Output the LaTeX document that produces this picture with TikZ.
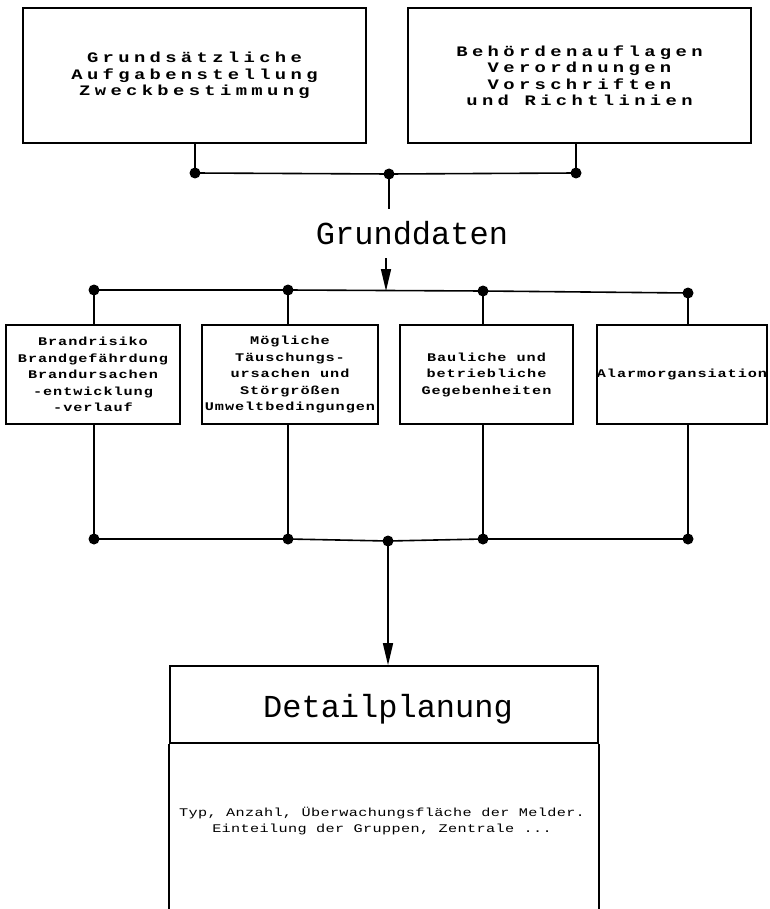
\documentclass[tikz,border=0pt]{standalone}
\usepackage{fontspec}
\setmainfont{Liberation Mono}
% wide, tracked typewriter faces for the box texts
\newfontfamily\headfont[FakeStretch=1.3,LetterSpace=30]{Liberation Mono}
\newfontfamily\cellfont[FakeStretch=1.3,LetterSpace=8]{Liberation Mono}
\newfontfamily\notefont[FakeStretch=1.3,LetterSpace=3]{Liberation Mono}
\newfontfamily\bigfont{Liberation Mono}
\usetikzlibrary{arrows.meta}

\begin{document}
\begin{tikzpicture}[x=1pt,y=-1pt,line width=1.6pt,
  box/.style={draw, rectangle, inner sep=0pt, align=center},
  topbox/.style={box, minimum width=343pt, minimum height=135pt,
    font=\headfont\bfseries\fontsize{14.5}{16.5}\selectfont},
  midbox/.style={box, minimum height=99pt,
    font=\cellfont\bfseries\fontsize{11.7}{16.5}\selectfont},
  bigtext/.style={inner sep=0pt, anchor=base, font=\bigfont\fontsize{32}{36}\selectfont},
  notetext/.style={inner sep=0pt, align=center, font=\notefont\fontsize{11.7}{16}\selectfont},
  flow/.style={-{Triangle[length=22pt,width=10pt]}},
  dot/.style={fill=black}
]
\useasboundingbox (0,0) rectangle (769,909);

% top row
\node[topbox] (tl) at (194.5,75.5) {Grundsätzliche\\Aufgabenstellung\\Zweckbestimmung};
\node[topbox] (tr) at (579.5,75.5) {Behördenauflagen\\Verordnungen\\Vorschriften\\und Richtlinien};

\coordinate (jl) at (195,173);
\coordinate (jm) at (389,174);
\coordinate (jr) at (576,173);
\coordinate (gtop) at (389,209);

\draw (tl.south -| jl) -- (jl);
\draw (tr.south -| jr) -- (jr);
\draw (jl) -- (jm) -- (jr);
\draw (jm) -- (gtop);

\node[bigtext] (grund) at (412,244) {Grunddaten};

% distribution bus
\coordinate (astart) at (386,258);
\coordinate (aend) at (386,291);
\coordinate (d1) at (94,290);
\coordinate (d2) at (288,290);
\coordinate (d3) at (483,291);
\coordinate (d4) at (688,293);
\draw[flow] (astart) -- (aend);
\draw (d1) -- (d2) -- (d3) -- (d4);

% middle row
\node[midbox, minimum width=174pt] (b1) at (93,374.5)
  {Brandrisiko\\Brandgefährdung\\Brandursachen\\-entwicklung\\-verlauf};
\node[midbox, minimum width=176pt] (b2) at (290,374.5)
  {Mögliche\\Täuschungs-\\ursachen und\\Störgrößen\\Umweltbedingungen};
\node[midbox, minimum width=173pt] (b3) at (486.5,374.5)
  {Bauliche und\\betriebliche\\Gegebenheiten};
\node[midbox, minimum width=170pt] (b4) at (682,374.5)
  {Alarmorgansiation};

\draw (d1) -- (d1 |- b1.north);
\draw (d2) -- (d2 |- b2.north);
\draw (d3) -- (d3 |- b3.north);
\draw (d4) -- (d4 |- b4.north);

% collecting bus
\coordinate (e1) at (94,539);
\coordinate (e2) at (288,539);
\coordinate (em) at (388,541);
\coordinate (e3) at (483,539);
\coordinate (e4) at (688,539);
\draw (e1 |- b1.south) -- (e1);
\draw (e2 |- b2.south) -- (e2);
\draw (e3 |- b3.south) -- (e3);
\draw (e4 |- b4.south) -- (e4);
\draw (e1) -- (e2) -- (em) -- (e3) -- (e4);

% detail planning box, open at the bottom
\node[box, minimum width=428pt, minimum height=77pt] (det) at (384,704.5) {};
\node[bigtext] (dettitle) at (388,717) {Detailplanung};
\draw (det.south west) -- ++(0,170);
\draw (det.south east) -- ++(0,170);
\draw[flow] (em) -- (em |- det.north);

\node[notetext] (body) at (382,821)
  {Typ, Anzahl, Überwachungsfläche der Melder.\\Einteilung der Gruppen, Zentrale ...};

% junction dots
\foreach \p in {jl,jm,jr,d1,d2,d3,d4,e1,e2,em,e3,e4}
  \fill[dot] (\p) circle (5.5pt);
\end{tikzpicture}
\end{document}
